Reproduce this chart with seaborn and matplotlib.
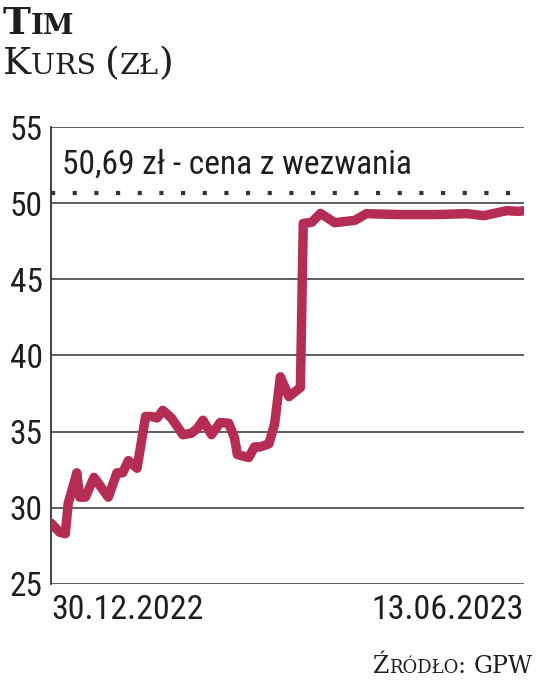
import matplotlib
matplotlib.use("Agg")
import matplotlib.pyplot as plt
import matplotlib.transforms as mtransforms
import pandas as pd
import seaborn as sns

# Kurs akcji TIM
dates = ["2022-12-30", "2023-01-02", "2023-01-04", "2023-01-05", "2023-01-07",
         "2023-01-08", "2023-01-09", "2023-01-11", "2023-01-14", "2023-01-19",
         "2023-01-22", "2023-01-24", "2023-01-26", "2023-01-29", "2023-02-01",
         "2023-02-03", "2023-02-05", "2023-02-07", "2023-02-10", "2023-02-14",
         "2023-02-17", "2023-02-19", "2023-02-21", "2023-02-24", "2023-02-27",
         "2023-03-02", "2023-03-04", "2023-03-05", "2023-03-09", "2023-03-11",
         "2023-03-13", "2023-03-16", "2023-03-18", "2023-03-20", "2023-03-23",
         "2023-03-27", "2023-03-28", "2023-03-31", "2023-04-03", "2023-04-08",
         "2023-04-15", "2023-04-19", "2023-05-01", "2023-05-13", "2023-05-24",
         "2023-05-30", "2023-06-07", "2023-06-11", "2023-06-13"]
prices = [29.0, 28.4, 28.3, 30.3, 31.6,
          32.3, 30.7, 30.7, 32.0, 30.7,
          32.3, 32.3, 33.1, 32.6, 36.0,
          36.0, 35.9, 36.4, 35.9, 34.8,
          34.9, 35.2, 35.75, 34.8, 35.6,
          35.55, 34.6, 33.5, 33.3, 34.0,
          34.0, 34.2, 35.5, 38.6, 37.3,
          37.9, 48.67, 48.75, 49.33, 48.72,
          48.87, 49.31, 49.25, 49.25, 49.31,
          49.18, 49.51, 49.46, 49.5]
offer_price = 50.69
offer_label = "50,69 zł - cena z wezwania"
y_ticks = [25, 30, 35, 40, 45, 50, 55]
x_labels = ["30.12.2022", "13.06.2023"]

df = pd.DataFrame({"date": pd.to_datetime(dates), "price": prices})

sns.set_theme(style="white")
plt.rcParams["font.family"] = ["Roboto Condensed", "Liberation Sans Narrow",
                               "DejaVu Sans"]
plt.rcParams["font.stretch"] = "condensed"

line_color = "#b52d52"
grid_color = "#333333"
text_color = "#1e1e1e"
serif = ["DejaVu Serif"]

fig = plt.figure(figsize=(5.36, 6.8), dpi=100)
ax = fig.add_axes([51 / 536, 1 - 584 / 680, 473 / 536, 457 / 680])

for v in y_ticks:
    ax.axhline(v, color=grid_color, lw=1.1, zorder=1)
ax.axhline(offer_price, color=grid_color, lw=3.0, ls=(0, (1, 4.2)),
           dash_capstyle="butt", zorder=1)

sns.lineplot(data=df, x="date", y="price", color=line_color, lw=6.8,
             solid_joinstyle="round", solid_capstyle="round", ax=ax, zorder=3)

ax.set_xlim(df["date"].iloc[0], df["date"].iloc[-1])
ax.set_ylim(25, 55)
ax.set_yticks(y_ticks)
ax.set_yticklabels([str(v) for v in y_ticks], fontsize=24, color=text_color)
ax.set_xticks([df["date"].iloc[0], df["date"].iloc[-1]])
ax.set_xticklabels(x_labels, fontsize=24.5, color=text_color)
xl = ax.get_xticklabels()
xl[0].set_ha("left")
xl[0].set_transform(xl[0].get_transform() +
                    mtransforms.ScaledTranslation(-6 / 100, 0, fig.dpi_scale_trans))
xl[1].set_ha("right")
ax.tick_params(axis="both", length=0)
ax.tick_params(axis="y", pad=6)
ax.tick_params(axis="x", pad=7)
ax.set_xlabel("")
ax.set_ylabel("")
for side in ["top", "right", "bottom"]:
    ax.spines[side].set_visible(False)
ax.spines["left"].set_color(grid_color)
ax.spines["left"].set_linewidth(1.3)

trans = mtransforms.blended_transform_factory(ax.transAxes, ax.transData)
ax.text(0.023, 51.95, offer_label, transform=trans, fontsize=24,
        color=text_color, va="baseline", ha="left")

# small caps: pieces drawn one after another
renderer = fig.canvas.get_renderer()


def small_caps(pieces, x, y, weight="normal", ha="left"):
    texts = []
    cx = x
    for s, size in pieces:
        t = fig.text(cx, y, s, fontsize=size, family=serif, weight=weight,
                     stretch="normal", color=text_color, va="baseline",
                     ha="left")
        w = t.get_window_extent(renderer).width / fig.bbox.width
        texts.append(t)
        cx += w
    if ha == "right":
        shift = cx - x
        for t in texts:
            px, py = t.get_position()
            t.set_position((px - shift, py))


small_caps([("T", 27), ("IM", 20)], 3 / 536, 1 - 34 / 680, weight="bold")
small_caps([("K", 27), ("URS ", 20.5), ("(", 27), ("ZŁ", 20.5), (")", 27)],
           3 / 536, 1 - 74 / 680)
small_caps([("Ź", 17), ("RÓDŁO", 13), (": ", 17), ("GPW", 17)],
           533 / 536, 1 - 673 / 680, ha="right")

fig.savefig("out.png", dpi=100)
